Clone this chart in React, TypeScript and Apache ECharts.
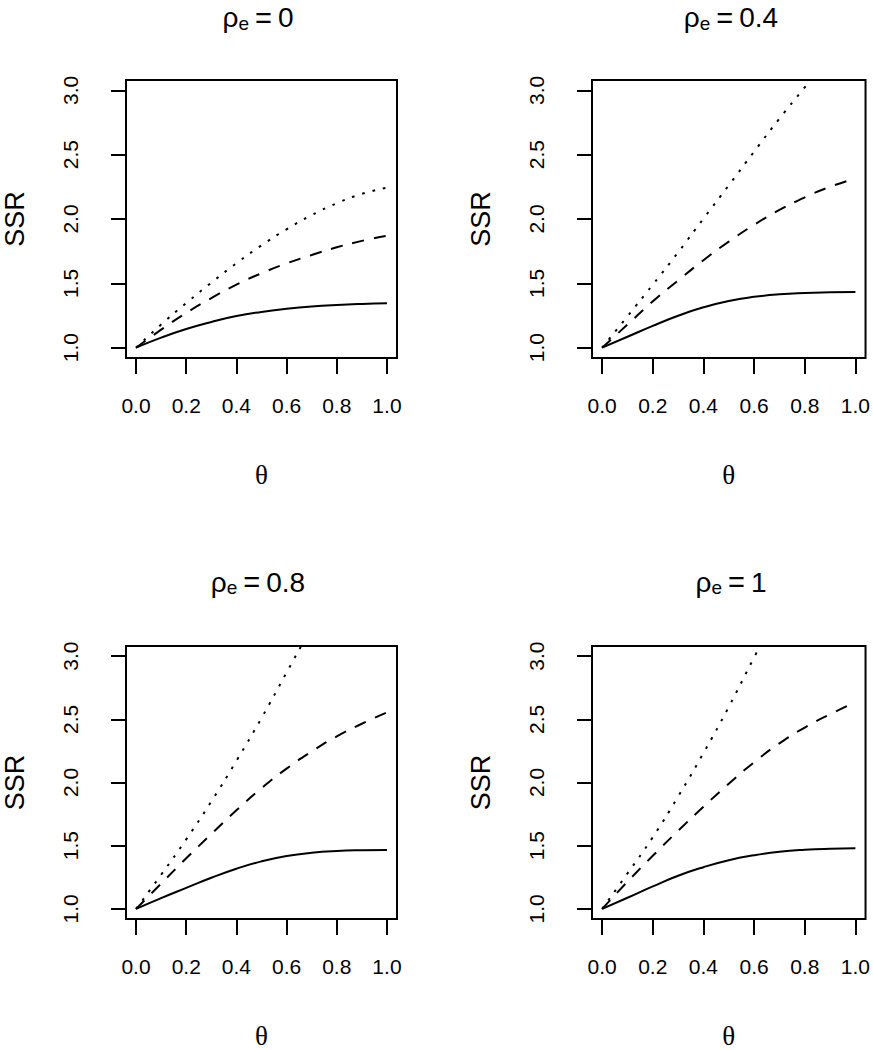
import React, { useEffect, useRef } from "react";
import * as echarts from "echarts";

// ---- data ----
const theta = [0, 0.1, 0.2, 0.3, 0.4, 0.5, 0.6, 0.7, 0.8, 0.9, 1.0];
const xTicks = [0, 0.2, 0.4, 0.6, 0.8, 1.0];
const yTicks = [1.0, 1.5, 2.0, 2.5, 3.0];
const rhoLabels = ["0", "0.4", "0.8", "1"];

// rho_e = 0
const solidRho0 = [1.0, 1.078, 1.145, 1.2, 1.246, 1.278, 1.302, 1.32, 1.332, 1.34, 1.345];
const dashedRho0 = [1.0, 1.14, 1.27, 1.385, 1.49, 1.578, 1.655, 1.72, 1.78, 1.83, 1.87];
const dottedRho0 = [1.0, 1.18, 1.347, 1.505, 1.656, 1.795, 1.92, 2.03, 2.122, 2.195, 2.243];
const dottedThetaRho0 = theta;

// rho_e = 0.4
const solidRho04 = [1.0, 1.085, 1.17, 1.248, 1.314, 1.363, 1.395, 1.415, 1.425, 1.43, 1.433];
const dashedRho04 = [1.0, 1.18, 1.36, 1.522, 1.68, 1.824, 1.955, 2.07, 2.168, 2.25, 2.315];
const dottedThetaRho04 = [0, 0.1, 0.2, 0.3, 0.4, 0.5, 0.6, 0.7, 0.8, 0.822];
const dottedRho04 = [1.0, 1.244, 1.49, 1.741, 2.003, 2.262, 2.523, 2.78, 3.023, 3.08];

// rho_e = 0.8
const solidRho08 = [1.0, 1.085, 1.166, 1.246, 1.318, 1.376, 1.418, 1.444, 1.458, 1.464, 1.466];
const dashedRho08 = [1.0, 1.2, 1.4, 1.592, 1.78, 1.955, 2.11, 2.245, 2.365, 2.465, 2.554];
const dottedThetaRho08 = [0, 0.1, 0.2, 0.3, 0.4, 0.5, 0.6, 0.658];
const dottedRho08 = [1.0, 1.27, 1.55, 1.85, 2.171, 2.51, 2.87, 3.08];

// rho_e = 1
const solidRho1 = [1.0, 1.088, 1.178, 1.262, 1.33, 1.385, 1.424, 1.452, 1.468, 1.476, 1.479];
const dashedRho1 = [1.0, 1.215, 1.42, 1.618, 1.808, 1.99, 2.16, 2.31, 2.435, 2.54, 2.635];
const dottedThetaRho1 = [0, 0.1, 0.2, 0.3, 0.4, 0.5, 0.6, 0.624];
const dottedRho1 = [1.0, 1.28, 1.567, 1.889, 2.233, 2.598, 2.99, 3.08];

const panels = [
  { solid: solidRho0, dashed: dashedRho0, dotted: dottedRho0, dottedTheta: dottedThetaRho0 },
  { solid: solidRho04, dashed: dashedRho04, dotted: dottedRho04, dottedTheta: dottedThetaRho04 },
  { solid: solidRho08, dashed: dashedRho08, dotted: dottedRho08, dottedTheta: dottedThetaRho08 },
  { solid: solidRho1, dashed: dashedRho1, dotted: dottedRho1, dottedTheta: dottedThetaRho1 },
];

// ---- layout ----
const gridPos = [
  { left: 119, top: 80 },
  { left: 592, top: 80 },
  { left: 119, top: 646 },
  { left: 592, top: 646 },
];
const BOX = 278;
const SANS = "Liberation Sans, Arial, Helvetica, sans-serif";
const SERIF = "Liberation Serif, DejaVu Serif, serif";

function pairs(xs: number[], ys: number[]) {
  return ys.map((y, i) => [xs[i], y]);
}

export default function App() {
  const ref = useRef<HTMLDivElement>(null);

  useEffect(() => {
    document.body.style.margin = "0";
    if (!ref.current) return;
    const chart = echarts.init(ref.current, undefined, { renderer: "svg" });

    const grid = gridPos.map((g) => ({
      left: g.left,
      top: g.top,
      width: BOX,
      height: BOX,
      show: true,
      borderColor: "#000",
      borderWidth: 2,
      backgroundColor: "transparent",
      containLabel: false,
    }));

    const xAxis = gridPos.map((_, i) => ({
      type: "value",
      gridIndex: i,
      min: -0.04,
      max: 1.04,
      axisLine: { show: false, onZero: false },
      splitLine: { show: false },
      axisTick: {
        show: true,
        inside: false,
        length: 16,
        customValues: xTicks,
        lineStyle: { color: "#000", width: 2 },
      },
      axisLabel: {
        show: true,
        customValues: xTicks,
        formatter: (v: number) => v.toFixed(1),
        margin: 37,
        color: "#000",
        fontSize: 21,
        fontFamily: SANS,
      },
      name: "θ",
      nameLocation: "middle",
      nameGap: 103,
      nameTextStyle: { color: "#000", fontSize: 27, fontFamily: SERIF },
    }));

    const yAxis = gridPos.map((_, i) => ({
      type: "value",
      gridIndex: i,
      min: 0.92,
      max: 3.08,
      axisLine: { show: false, onZero: false },
      splitLine: { show: false },
      axisTick: {
        show: true,
        inside: false,
        length: 15,
        customValues: yTicks,
        lineStyle: { color: "#000", width: 2 },
      },
      axisLabel: {
        show: true,
        customValues: yTicks,
        rotate: 90,
        formatter: (v: number) => v.toFixed(1),
        margin: 45,
        color: "#000",
        fontSize: 21,
        fontFamily: SANS,
      },
      name: "SSR",
      nameLocation: "middle",
      nameGap: 98,
      nameTextStyle: { color: "#000", fontSize: 27, fontFamily: SANS },
    }));

    const series: any[] = [];
    panels.forEach((p, i) => {
      const common = {
        type: "line",
        xAxisIndex: i,
        yAxisIndex: i,
        showSymbol: false,
        symbol: "none",
        smooth: 0.5,
        clip: true,
        silent: true,
      };
      series.push({
        ...common,
        name: "solid",
        data: pairs(theta, p.solid),
        lineStyle: { color: "#000", width: 2, type: "solid" },
      });
      series.push({
        ...common,
        name: "dashed",
        data: pairs(theta, p.dashed),
        lineStyle: { color: "#000", width: 2, type: [12, 10], cap: "butt" },
      });
      series.push({
        ...common,
        name: "dotted",
        data: pairs(p.dottedTheta, p.dotted),
        lineStyle: { color: "#000", width: 2, type: [2.6, 8], cap: "butt" },
      });
    });

    const titleCenters = gridPos.map((g, i) => ({
      x: g.left + BOX / 2,
      y: i < 2 ? 17.5 : 582,
    }));

    const graphic = titleCenters.map((c, i) => ({
      type: "text",
      x: c.x,
      y: c.y,
      silent: true,
      style: {
        text: `{r|ρ}{s|e}{eq|=}{t|${rhoLabels[i]}}`,
        align: "center",
        verticalAlign: "middle",
        fill: "#000",
        rich: {
          r: { fontSize: 28, lineHeight: 30, fontFamily: SANS, fill: "#000", verticalAlign: "middle" },
          s: { fontSize: 19, lineHeight: 13, fontFamily: SANS, fill: "#000", verticalAlign: "bottom" },
          eq: {
            fontSize: 29,
            lineHeight: 30,
            fontFamily: SANS,
            fill: "#000",
            verticalAlign: "middle",
            padding: [0, 6, 0, 6],
          },
          t: { fontSize: 28, lineHeight: 30, fontFamily: SANS, fill: "#000", verticalAlign: "middle" },
        },
      },
    }));

    chart.setOption({
      animation: false,
      backgroundColor: "#fff",
      grid,
      xAxis,
      yAxis,
      series,
      graphic,
    });

    return () => {
      chart.dispose();
    };
  }, []);

  return <div ref={ref} style={{ width: 873, height: 1050 }} />;
}
